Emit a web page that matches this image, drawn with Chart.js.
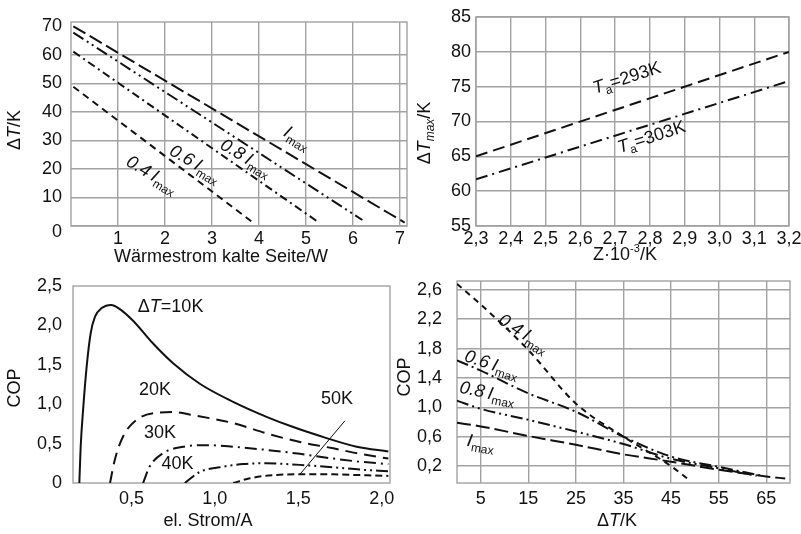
<!DOCTYPE html>
<html>
<head>
<meta charset="utf-8">
<script src="https://cdn.jsdelivr.net/npm/chart.js@4.4.0/dist/chart.umd.min.js"></script>
<style>
  body { margin: 0; background: #fff; }
  #wrap { position: relative; width: 801px; height: 534px; overflow: hidden; }
  canvas { position: absolute; }
</style>
</head>
<body>
<div id="wrap">
  <canvas id="c1" width="410" height="270" style="left:0;top:0"></canvas>
  <canvas id="c2" width="401" height="270" style="left:400px;top:0"></canvas>
  <canvas id="c3" width="400" height="264" style="left:0;top:270px"></canvas>
  <canvas id="c4" width="411" height="264" style="left:390px;top:270px"></canvas>
</div>
<script>
// ---------- data ----------

// dT over cooling power, one line per current
const qImaxX = [0.05, 7.1];   const qImaxY = [70.0, 1.2];
const q08X = [0.05, 6.2];     const q08Y = [67.8, 2.1];
const q06X = [0.05, 5.25];    const q06Y = [61.1, 1.5];
const q04X = [0.05, 3.85];    const q04Y = [48.8, 1.5];
const qTicksX = [1, 2, 3, 4, 5, 6, 7];
const qTicksY = [0, 10, 20, 30, 40, 50, 60, 70];

// dT_max over figure of merit Z
const zX = [2.3, 3.2];
const z293 = [65.0, 80.0];
const z303 = [61.7, 75.8];
const zTicksX = [2.3, 2.4, 2.5, 2.6, 2.7, 2.8, 2.9, 3.0, 3.1, 3.2];
const zTicksY = [55, 60, 65, 70, 75, 80, 85];

// COP over current, one curve per dT
const i10X = [0.188, 0.196, 0.212, 0.232, 0.256, 0.282, 0.322, 0.38, 0.422, 0.51, 0.63, 0.75, 0.91, 1.11, 1.31, 1.47, 1.67, 1.85, 2.04];
const i10Y = [0, 0.46, 0.97, 1.48, 1.90, 2.11, 2.22, 2.26, 2.22, 2.06, 1.77, 1.52, 1.26, 1.03, 0.84, 0.71, 0.57, 0.46, 0.40];
const i20X = [0.372, 0.40, 0.45, 0.53, 0.65, 0.75, 0.87, 1.11, 1.31, 1.51, 1.71, 1.87, 2.04];
const i20Y = [0, 0.29, 0.59, 0.80, 0.89, 0.90, 0.86, 0.76, 0.63, 0.52, 0.44, 0.37, 0.31];
const i30X = [0.57, 0.61, 0.69, 0.81, 0.95, 1.11, 1.31, 1.51, 1.71, 1.87, 2.04];
const i30Y = [0, 0.21, 0.38, 0.46, 0.48, 0.46, 0.42, 0.37, 0.31, 0.27, 0.24];
const i40X = [0.82, 0.91, 1.03, 1.17, 1.31, 1.51, 1.71, 1.87, 2.04];
const i40Y = [0, 0.14, 0.20, 0.24, 0.25, 0.23, 0.20, 0.17, 0.15];
const i50X = [1.11, 1.21, 1.35, 1.51, 1.71, 1.87, 2.04];
const i50Y = [0, 0.06, 0.10, 0.11, 0.11, 0.10, 0.09];
const lead50X = [1.51, 1.78];
const lead50Y = [0.11, 0.79];
const iTicksX = [0.5, 1.0, 1.5, 2.0];
const iTicksY = [0, 0.5, 1.0, 1.5, 2.0, 2.5];

// COP over dT, one line per current
const c04X = [0, 5, 15, 25, 35, 45, 49];
const c04Y = [2.68, 2.4, 1.78, 1.05, 0.6, 0.2, 0];
const c06X = [0, 5, 15, 25, 35, 45, 55, 64];
const c06Y = [1.64, 1.50, 1.19, 0.94, 0.6, 0.33, 0.19, 0.07];
const c08X = [0, 5, 15, 25, 35, 45, 55, 63];
const c08Y = [1.09, 0.98, 0.83, 0.67, 0.5, 0.3, 0.17, 0.07];
const cImaxX = [0, 5, 15, 25, 35, 45, 55, 65, 69];
const cImaxY = [0.79, 0.74, 0.61, 0.49, 0.36, 0.26, 0.15, 0.06, 0.03];
const cTicksX = [5, 15, 25, 35, 45, 55, 65];
const cTicksY = [0.2, 0.6, 1.0, 1.4, 1.8, 2.2, 2.6];

// ---------- helpers ----------

const F = "'Liberation Sans', Arial, sans-serif";
const reg = s => s + 'px ' + F;
const ita = s => 'italic ' + s + 'px ' + F;
const GRID = '#a2a2a2';
const INK = '#111';

const comma = v => (v === 0 ? '0' : v.toFixed(1).replace('.', ','));
const plain = v => String(v);

function line(xs, ys, dash, w) {
  return {
    data: xs.map((x, i) => ({ x: x, y: ys[i] })),
    showLine: true,
    borderColor: INK,
    borderWidth: w || 2,
    borderDash: dash,
    pointRadius: 0,
    fill: false,
    cubicInterpolationMode: 'monotone'
  };
}

function axis(kind, size, min, max, ticks, fmt, pad, grid) {
  return {
    type: 'linear',
    min: min,
    max: max,
    afterBuildTicks: s => { s.ticks = ticks.map(v => ({ value: v })); },
    afterFit: s => {
      if (kind === 'x') { s.height = size; s.paddingLeft = 0; s.paddingRight = 0; }
      else { s.width = size; s.paddingTop = 0; s.paddingBottom = 0; }
    },
    grid: { display: !!grid, color: grid || GRID, lineWidth: 1.4, drawTicks: false },
    border: { display: false },
    ticks: {
      padding: pad, color: '#111', font: { family: F, size: 18 },
      callback: fmt, maxRotation: 0, autoSkip: false
    }
  };
}

// text made of pieces with their own font and baseline shift
function drawRich(ctx, x, y, angle, parts) {
  ctx.save();
  ctx.translate(x, y);
  ctx.rotate(angle * Math.PI / 180);
  ctx.fillStyle = INK;
  ctx.textBaseline = 'middle';
  ctx.textAlign = 'left';
  let w = 0;
  const ws = parts.map(p => { ctx.font = p.f; const m = ctx.measureText(p.t).width; w += m; return m; });
  let cx = -w / 2;
  parts.forEach((p, i) => { ctx.font = p.f; ctx.fillText(p.t, cx, p.dy || 0); cx += ws[i]; });
  ctx.restore();
}

// frame around the plot area, labels at data positions, axis titles
function decor(labels, titles) {
  return {
    id: 'decor',
    beforeDatasetsDraw(chart) {
      const a = chart.chartArea, ctx = chart.ctx;
      ctx.save();
      ctx.strokeStyle = GRID;
      ctx.lineWidth = 1.4;
      ctx.strokeRect(a.left, a.top, a.right - a.left, a.bottom - a.top);
      ctx.restore();
    },
    afterDatasetsDraw(chart) {
      const sx = chart.scales.x, sy = chart.scales.y;
      labels.forEach(l => drawRich(chart.ctx, sx.getPixelForValue(l.x), sy.getPixelForValue(l.y), l.a, l.parts));
      titles.forEach(t => drawRich(chart.ctx, t.x, t.y, t.a, t.parts));
    }
  };
}

function panel(id, datasets, pad, scales, labels, titles) {
  return new Chart(document.getElementById(id), {
    type: 'scatter',
    data: { datasets: datasets },
    options: {
      responsive: false,
      animation: false,
      devicePixelRatio: 1,
      layout: { padding: { top: pad[0], right: pad[1], bottom: 0, left: 0 } },
      plugins: { legend: { display: false }, tooltip: { enabled: false } },
      scales: scales
    },
    plugins: [decor(labels, titles)]
  });
}

const imax = (pre, a, x, y) => ({
  x: x, y: y, a: a,
  parts: (pre ? [{ t: pre + '\u2009', f: ita(18) }] : []).concat([
    { t: 'I', f: ita(18) }, { t: 'max', f: reg(12), dy: 6 }
  ])
});

// ---------- top left: dT over cooling power ----------
// the zero of the y axis sits in the corner, a little below the axis
panel('c1', [
  line(qImaxX, qImaxY, [14, 5]),
  line(q08X, q08Y, [12, 4, 2, 4, 2, 4]),
  line(q06X, q06Y, [8, 4, 2, 4]),
  line(q04X, q04Y, [7, 5])
], [22, 3], {
  x: axis('x', 44, 0, 7.15, qTicksX, plain, 2, GRID),
  y: Object.assign(axis('y', 71, 0, 71.5, qTicksY, v => (v === 0 ? '' : String(v)), 9, GRID), {
    grid: { color: c => (c.tick && c.tick.value === 70 ? 'rgba(0,0,0,0)' : GRID), lineWidth: 1.4, drawTicks: false }
  })
}, [
  imax('', 31, 4.81, 30.8),
  imax('0.8', 31, 3.72, 23.8),
  imax('0.6', 31, 2.64, 21.7),
  imax('0.4', 31, 1.72, 17.9)
], [
  { x: 57, y: 232, a: 0, parts: [{ t: '0', f: reg(18) }] },
  { x: 15, y: 130, a: -90, parts: [{ t: '\u0394', f: reg(18) }, { t: 'T', f: ita(18) }, { t: '/K', f: reg(18) }] },
  { x: 221, y: 257, a: 0, parts: [{ t: 'Wärmestrom kalte Seite/W', f: reg(18) }] }
]);

// ---------- top right: dT_max over Z ----------
panel('c2', [
  line(zX, z293, [12, 6]),
  line(zX, z303, [12, 5, 2, 5])
], [17, 12], {
  x: axis('x', 44, 2.3, 3.2, zTicksX, v => v.toFixed(1).replace('.', ','), 2, GRID),
  y: axis('y', 76, 55, 85, zTicksY, plain, 5, GRID)
}, [
  { x: 2.734, y: 76.2, a: -18, parts: [{ t: 'T', f: ita(18) }, { t: 'a', f: reg(12), dy: 6 }, { t: '=293K', f: reg(18) }] },
  { x: 2.805, y: 67.7, a: -18, parts: [{ t: 'T', f: ita(18) }, { t: 'a', f: reg(12), dy: 6 }, { t: '=303K', f: reg(18) }] }
], [
  { x: 25, y: 133, a: -90, parts: [{ t: '\u0394', f: reg(18) }, { t: 'T', f: ita(18) }, { t: 'max', f: ita(12), dy: 6 }, { t: '/K', f: reg(18) }] },
  { x: 225, y: 255, a: 0, parts: [{ t: 'Z\u00b710', f: reg(18) }, { t: '-3', f: reg(11), dy: -6 }, { t: '/K', f: reg(18) }] }
]);

// ---------- bottom left: COP over current ----------
panel('c3', [
  line(i10X, i10Y, [], 2),
  line(i20X, i20Y, [12, 7]),
  line(i30X, i30Y, [12, 5, 2, 5]),
  line(i40X, i40Y, [12, 4, 2, 4, 2, 4]),
  line(i50X, i50Y, [7, 4]),
  line(lead50X, lead50Y, [], 1)
], [16, 10], {
  x: axis('x', 51, 0.15, 2.05, iTicksX, comma, 5, null),
  y: axis('y', 73, 0, 2.5, iTicksY, comma, 11, null)
}, [
  { x: 0.735, y: 2.23, a: 0, parts: [{ t: '\u0394', f: reg(18) }, { t: 'T', f: ita(18) }, { t: '=10K', f: reg(18) }] },
  { x: 0.642, y: 1.18, a: 0, parts: [{ t: '20K', f: reg(18) }] },
  { x: 0.672, y: 0.63, a: 0, parts: [{ t: '30K', f: reg(18) }] },
  { x: 0.776, y: 0.24, a: 0, parts: [{ t: '40K', f: reg(18) }] },
  { x: 1.733, y: 1.07, a: 0, parts: [{ t: '50K', f: reg(18) }] }
], [
  { x: 15, y: 118, a: -90, parts: [{ t: 'COP', f: reg(18) }] },
  { x: 208, y: 251, a: 0, parts: [{ t: 'el. Strom/A', f: reg(18) }] }
]);

// ---------- bottom right: COP over dT ----------
panel('c4', [
  line(c04X, c04Y, [6, 5]),
  line(c06X, c06Y, [12, 4, 2, 4]),
  line(c08X, c08Y, [12, 4, 2, 4, 2, 4]),
  line(cImaxX, cImaxY, [14, 5])
], [11, 11], {
  x: axis('x', 51, 0, 70, cTicksX, plain, 5, GRID),
  y: axis('y', 67, -0.03, 2.72, cTicksY, comma, 15, GRID)
}, [
  imax('0.4', 33, 14.0, 2.0),
  imax('0.6', 18, 7.3, 1.58),
  imax('0.8', 12, 6.4, 1.19),
  imax('', 10, 5.0, 0.51)
], [
  { x: 15, y: 107, a: -90, parts: [{ t: 'COP', f: reg(18) }] },
  { x: 227, y: 251, a: 0, parts: [{ t: '\u0394', f: reg(18) }, { t: 'T', f: ita(18) }, { t: '/K', f: reg(18) }] }
]);
</script>
</body>
</html>
